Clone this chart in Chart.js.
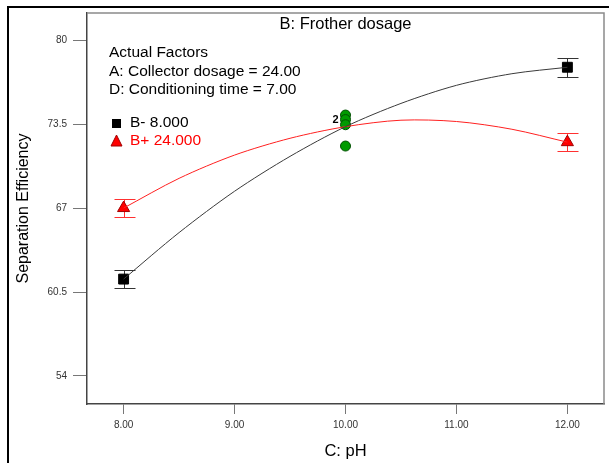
<!DOCTYPE html>
<html>
<head>
<meta charset="utf-8">
<script src="https://cdn.jsdelivr.net/npm/chart.js@4.4.1/dist/chart.umd.min.js"></script>
<style>
  html, body { margin: 0; padding: 0; background: #fff; }
  #wrap { width: 609px; height: 463px; }
</style>
</head>
<body>
<div id="wrap"><canvas id="chart" width="609" height="463"></canvas></div>
<script>
// values
const pHGrid = [8, 8.5, 9, 9.5, 10, 10.5, 11, 11.5, 12];
const curveLow = [61.5, 65.1, 68.3, 71.0, 73.3, 75.1, 76.5, 77.4, 77.9];   // B- 8.000
const curveHigh = [67.0, 69.3, 71.1, 72.4, 73.3, 73.8, 73.7, 73.1, 72.1];  // B+ 24.000

const pointX = [8, 12];
const pointLow = [61.5, 77.9];
const pointHigh = [67.0, 72.1];
const lsdHalf = 0.72;

const designX = [10, 10, 10, 10];
const designY = [74.2, 73.85, 73.45, 71.8];

const xTicks = [8, 9, 10, 11, 12];
const xTickLabels = ['8.00', '9.00', '10.00', '11.00', '12.00'];
const yTicks = [54, 60.5, 67, 73.5, 80];
const yTickLabels = ['54', '60.5', '67', '73.5', '80'];

const FONT = "'Liberation Sans', Arial, sans-serif";

function pts(xs, ys) {
  return xs.map((x, i) => ({ x: x, y: ys[i] }));
}

// error bars, frame, and text in the plot
const extras = {
  id: 'extras',
  beforeDatasetsDraw(chart) {
    const { ctx, chartArea: a } = chart;
    ctx.save();
    ctx.strokeStyle = '#8a8a8a';
    ctx.lineWidth = 1.5;
    ctx.beginPath();
    ctx.moveTo(a.left, a.top);
    ctx.lineTo(a.right, a.top);
    ctx.lineTo(a.right, a.bottom);
    ctx.stroke();
    // outer black frame
    ctx.strokeStyle = '#000';
    ctx.lineWidth = 2;
    ctx.beginPath();
    ctx.moveTo(8, 463);
    ctx.lineTo(8, 7);
    ctx.lineTo(609, 7);
    ctx.stroke();

    const xs = chart.scales.x, ys = chart.scales.y;
    const bars = [[pointLow, '#333'], [pointHigh, '#ff3030']];
    bars.forEach(([vals, col]) => {
      ctx.strokeStyle = col;
      ctx.lineWidth = 1;
      pointX.forEach((x, i) => {
        const px = Math.round(xs.getPixelForValue(x)) + 0.5;
        const top = Math.round(ys.getPixelForValue(vals[i] + lsdHalf)) + 0.5;
        const bot = Math.round(ys.getPixelForValue(vals[i] - lsdHalf)) + 0.5;
        ctx.beginPath();
        ctx.moveTo(px, top); ctx.lineTo(px, bot);
        ctx.moveTo(px - 10, top); ctx.lineTo(px + 11, top);
        ctx.moveTo(px - 10, bot); ctx.lineTo(px + 11, bot);
        ctx.stroke();
      });
    });
    ctx.restore();
  },
  afterDraw(chart) {
    const { ctx, chartArea: a } = chart;
    const xs = chart.scales.x, ys = chart.scales.y;
    ctx.save();
    ctx.fillStyle = '#000';
    ctx.textBaseline = 'middle';
    ctx.textAlign = 'center';
    ctx.font = '16.5px ' + FONT;
    ctx.fillText('B: Frother dosage', (a.left + a.right) / 2, 24);

    ctx.textAlign = 'left';
    ctx.font = '15.5px ' + FONT;
    ctx.fillText('Actual Factors', 109, 53);
    ctx.fillText('A: Collector dosage = 24.00', 109, 72);
    ctx.fillText('D: Conditioning time = 7.00', 109, 90);
    ctx.fillText('B- 8.000', 130, 123);
    ctx.fillStyle = '#ff0000';
    ctx.fillText('B+ 24.000', 130, 141);

    // legend markers
    ctx.fillStyle = '#000';
    ctx.fillRect(112, 119, 9, 9);
    ctx.fillStyle = '#ff0000';
    ctx.strokeStyle = '#a00000';
    ctx.beginPath();
    ctx.moveTo(116.5, 135);
    ctx.lineTo(122, 146);
    ctx.lineTo(111, 146);
    ctx.closePath();
    ctx.fill(); ctx.stroke();

    // count label beside the repeated design point
    ctx.fillStyle = '#000';
    ctx.font = 'bold 11px ' + FONT;
    ctx.textAlign = 'right';
    ctx.fillText('2', xs.getPixelForValue(designX[1]) - 7, ys.getPixelForValue(designY[1]));
    ctx.restore();
  }
};

const ctx = document.getElementById('chart').getContext('2d');
const chart = new Chart(ctx, {
  type: 'scatter',
  data: {
    datasets: [
      {
        type: 'line', label: 'B- curve', data: pts(pHGrid, curveLow),
        borderColor: '#3a3a3a', borderWidth: 1, pointRadius: 0, tension: 0.3, fill: false
      },
      {
        type: 'line', label: 'B+ curve', data: pts(pHGrid, curveHigh),
        borderColor: '#ff2020', borderWidth: 1, pointRadius: 0, tension: 0.3, fill: false
      },
      {
        label: 'design', data: pts(designX, designY),
        pointStyle: 'circle', pointRadius: 5,
        backgroundColor: '#009a00', borderColor: '#005000', borderWidth: 1
      },
      {
        label: 'B- 8.000', data: pts(pointX, pointLow),
        pointStyle: 'rect', pointRadius: 7,
        backgroundColor: '#000', borderColor: '#000', borderWidth: 1
      },
      {
        label: 'B+ 24.000', data: pts(pointX, pointHigh),
        pointStyle: 'triangle', pointRadius: 7,
        backgroundColor: '#ff0000', borderColor: '#a00000', borderWidth: 1
      }
    ]
  },
  options: {
    responsive: false,
    animation: false,
    layout: { autoPadding: false, padding: { top: 13, right: 5, left: 0, bottom: 0 } },
    plugins: { legend: { display: false }, tooltip: { enabled: false } },
    scales: {
      x: {
        type: 'linear', min: 7.67, max: 12.33,
        afterBuildTicks: s => { s.ticks = xTicks.map(v => ({ value: v })); },
        afterFit: s => { s.height = 59; },
        ticks: {
          callback: (v) => xTickLabels[xTicks.indexOf(v)],
          font: { size: 10, family: FONT }, color: '#333', padding: 5, maxRotation: 0
        },
        grid: { drawOnChartArea: false, tickLength: 10, color: '#777' },
        border: { color: '#444', width: 1.5 },
        title: { display: true, text: 'C: pH', font: { size: 16.5, family: FONT }, color: '#000', padding: { top: 0, bottom: 2 } }
      },
      y: {
        type: 'linear', min: 51.83, max: 82.1,
        afterBuildTicks: s => { s.ticks = yTicks.map(v => ({ value: v })); },
        afterFit: s => { s.width = 87; },
        ticks: {
          callback: (v) => yTickLabels[yTicks.indexOf(v)],
          font: { size: 10, family: FONT }, color: '#333', padding: 6
        },
        grid: { drawOnChartArea: false, tickLength: 14, color: '#777' },
        border: { color: '#444', width: 1.5 },
        title: { display: true, text: 'Separation Efficiency', font: { size: 16, family: FONT }, color: '#000', padding: { top: 14, bottom: 0 } }
      }
    }
  },
  plugins: [extras]
});
</script>
</body>
</html>
